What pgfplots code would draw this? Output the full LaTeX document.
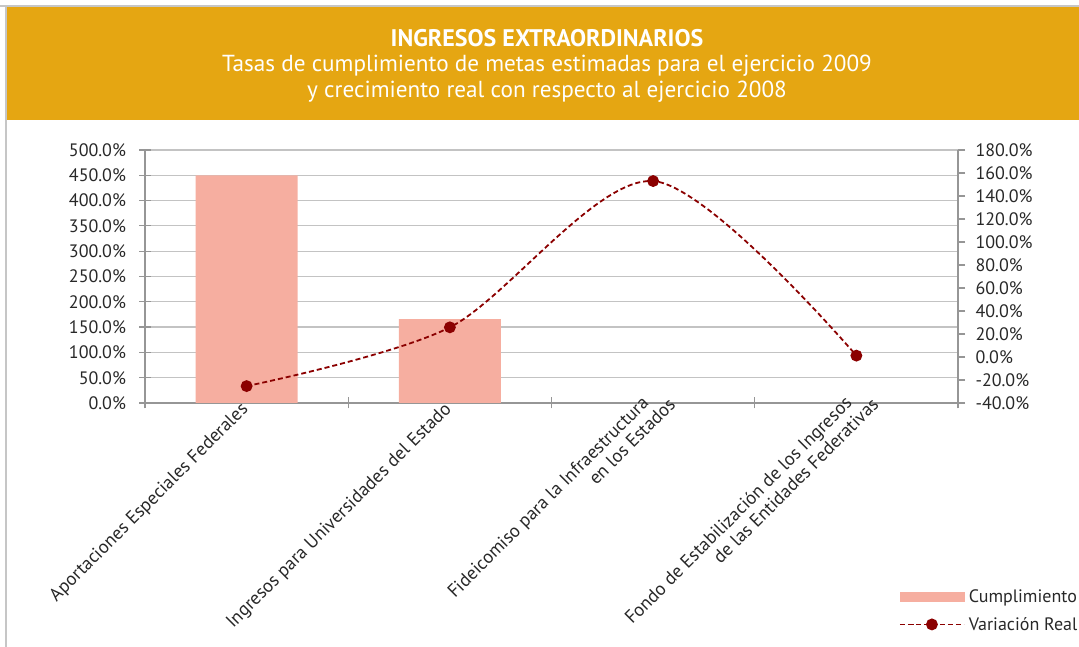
\documentclass[border=0pt]{standalone}
\usepackage{fontspec}
\setmainfont{PT Sans}
\usepackage{pgfplots}
\pgfplotsset{compat=1.18}
\definecolor{orng}{RGB}{229,166,18}
\definecolor{barc}{RGB}{246,174,160}
\definecolor{linec}{RGB}{139,0,0}
\definecolor{gridc}{RGB}{195,195,195}
\definecolor{axc}{RGB}{150,150,150}
\definecolor{txt}{RGB}{40,40,40}
\begin{document}
\begin{tikzpicture}
\path[use as bounding box] (0,0) rectangle (1079pt,647pt);
\fill[orng] (7pt,527pt) rectangle (1079pt,640pt);
\draw[gray!45, line width=1.5pt] (0pt,641pt) -- (1079pt,641pt);
\draw[gray!45, line width=1.5pt] (6pt,0pt) -- (6pt,641pt);
\node[white, font=\fontsize{24}{26}\selectfont\bfseries] at (547pt,609pt) {INGRESOS EXTRAORDINARIOS};
\node[white, font=\fontsize{23.2}{26}\selectfont] at (547pt,581pt) {Tasas de cumplimiento de metas estimadas para el ejercicio 2009};
\node[white, font=\fontsize{23.2}{26}\selectfont] at (547pt,555pt) {y crecimiento real con respecto al ejercicio 2008};

\begin{axis}[
  at={(145pt,244pt)}, anchor=south west, scale only axis,
  width=813pt, height=253pt,
  xmin=-0.5, xmax=3.5, ymin=0, ymax=500,
  axis y line*=left, axis x line*=bottom,
  axis line style={axc, line width=1.2pt, -},
  tick align=center, major tick length=11pt,
  tick style={axc, line width=1.2pt},
  xtick={-0.5,0.5,1.5,2.5,3.5}, xticklabels={},
  extra x ticks={0,1,2,3},
  extra x tick labels={{Aportaciones Especiales Federales},{Ingresos para Universidades del Estado},{Fideicomiso para la Infraestructura\\en los Estados\kern-18pt},{Fondo de Estabilización de los Ingresos\\de las Entidades Federativas\kern-18pt}},
  extra x tick style={major tick length=0pt, grid=none,
    tick label style={rotate=45, anchor=east, align=right, font=\fontsize{18.5}{20}\selectfont, text=txt, yshift=-2pt}},
  ytick={0,50,...,500},
  ymajorgrids, grid style={gridc, line width=1.2pt},
  yticklabel={\pgfmathprintnumber[fixed,precision=1,fixed zerofill]{\tick}\%},
  /pgf/number format/assume math mode=true,
  y tick label style={font=\fontsize{18}{20}\selectfont, text=txt, xshift=-10pt},
  clip=false,
]
\addplot[ybar, bar width=102pt, fill=barc, draw=none, bar shift=0pt] coordinates {(0,450) (1,166)};
\end{axis}

\begin{axis}[
  at={(145pt,244pt)}, anchor=south west, scale only axis,
  width=813pt, height=253pt,
  xmin=-0.5, xmax=3.5, ymin=-40, ymax=180,
  axis y line*=right, axis x line=none,
  axis line style={axc, line width=1.2pt, -},
  tick align=outside, major tick length=7pt,
  tick style={axc, line width=1.2pt},
  ytick={-40,-20,...,180},
  yticklabel={\pgfmathprintnumber[fixed,precision=1,fixed zerofill]{\tick}\%},
  /pgf/number format/assume math mode=true,
  y tick label style={font=\fontsize{18}{20}\selectfont, text=txt, xshift=7pt},
  legend style={at={(1.152,-0.73)}, anchor=north east, draw=none, fill=none,
    font=\fontsize{18}{20}\selectfont, text=txt, row sep=9pt, inner sep=0pt,
    nodes={inner xsep=4pt}},
  legend cell align=left,
  legend image code/.code={\draw[mark repeat=2,mark phase=2,#1] plot coordinates {(0pt,0pt) (32pt,0pt) (64pt,0pt)};},
  clip=false,
]
\addlegendimage{legend image code/.code={\fill[barc] (0pt,-4.5pt) rectangle (64pt,4.5pt);}}
\addlegendentry{Cumplimiento}
\addplot[smooth, linec, line width=1.8pt, dash pattern=on 5pt off 3pt,
  mark=*, mark size=5pt, mark options={solid, fill=linec, draw=linec}]
  coordinates {(0,-25.3) (1,25.8) (2,153) (3,1.2)};
\addlegendentry{Variación Real}
\end{axis}
\end{tikzpicture}
\end{document}
